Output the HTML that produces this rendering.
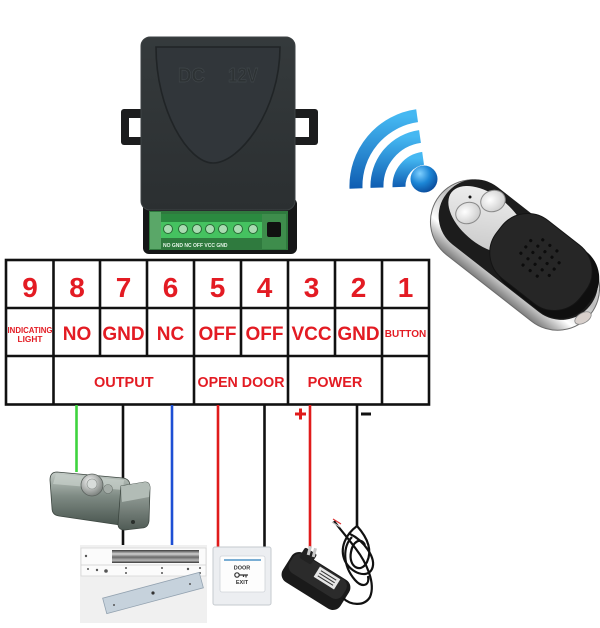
<!DOCTYPE html>
<html><head><meta charset="utf-8"><style>
html,body{margin:0;padding:0;background:#fff;width:600px;height:628px;overflow:hidden}
svg{display:block}
text{font-family:"Liberation Sans",Arial,sans-serif;font-weight:bold}
</style></head><body>
<svg width="600" height="628" viewBox="0 0 600 628" xmlns="http://www.w3.org/2000/svg">
<defs>
 <linearGradient id="cov" x1="0" y1="0" x2="0" y2="1"><stop offset="0" stop-color="#353a3c"/><stop offset="1" stop-color="#2b2f31"/></linearGradient>
 <linearGradient id="wifi" x1="0" y1="0" x2="0" y2="1"><stop offset="0" stop-color="#45b8f2"/><stop offset="1" stop-color="#0f5db2"/></linearGradient>
 <radialGradient id="ball" cx="0.35" cy="0.3" r="0.75"><stop offset="0" stop-color="#7fd0ff"/><stop offset="0.5" stop-color="#1c86d6"/><stop offset="1" stop-color="#0a4a9a"/></radialGradient>
 <linearGradient id="chrome" x1="0" y1="0" x2="0" y2="1"><stop offset="0" stop-color="#e8e8e8"/><stop offset="0.4" stop-color="#bdbdbd"/><stop offset="0.75" stop-color="#ffffff"/><stop offset="1" stop-color="#7d7d7d"/></linearGradient>
 <linearGradient id="plate" x1="0" y1="0" x2="1" y2="1"><stop offset="0" stop-color="#f4f4f4"/><stop offset="1" stop-color="#c4c4c4"/></linearGradient>
 <radialGradient id="btn" cx="0.4" cy="0.4" r="0.7"><stop offset="0" stop-color="#ffffff"/><stop offset="1" stop-color="#c8c8c8"/></radialGradient>
 <linearGradient id="lock" x1="0" y1="0" x2="0" y2="1"><stop offset="0" stop-color="#c4ccc7"/><stop offset="0.45" stop-color="#7f8b84"/><stop offset="1" stop-color="#4a5650"/></linearGradient>
 <linearGradient id="strike" x1="0" y1="0" x2="0" y2="1"><stop offset="0" stop-color="#a8b2ac"/><stop offset="1" stop-color="#505b55"/></linearGradient>
 <radialGradient id="knob" cx="0.4" cy="0.35" r="0.7"><stop offset="0" stop-color="#f4f4f4"/><stop offset="1" stop-color="#767c78"/></radialGradient>
 <linearGradient id="mag" x1="0" y1="0" x2="0" y2="1"><stop offset="0" stop-color="#3a3a3a"/><stop offset="0.3" stop-color="#d0d0d0"/><stop offset="0.55" stop-color="#6a6a6a"/><stop offset="0.8" stop-color="#b8b8b8"/><stop offset="1" stop-color="#333"/></linearGradient>
</defs>

<!-- ===== Controller module ===== -->
<rect x="121" y="109" width="22" height="36" rx="3" fill="#1c1d1e"/>
<rect x="129" y="118" width="13" height="19" fill="#fff"/>
<rect x="293" y="109" width="25" height="36" rx="3" fill="#1c1d1e"/>
<rect x="294" y="118" width="15" height="19" fill="#fff"/>
<rect x="143" y="198" width="154" height="56" rx="6" fill="#151617"/>
<rect x="149" y="211" width="139" height="39" fill="#2f7a3e"/>
<rect x="150" y="212" width="11" height="37" fill="#5aa768"/>
<rect x="161" y="214" width="101" height="9" fill="#2b8a40"/>
<rect x="161" y="222" width="101" height="16" fill="#45c260"/>
<g fill="#a9dcb2" stroke="#2a6a36" stroke-width="1">
 <circle cx="168" cy="229" r="4.5"/><circle cx="183" cy="229" r="4.5"/><circle cx="197" cy="229" r="4.5"/>
 <circle cx="210" cy="229" r="4.5"/><circle cx="223" cy="229" r="4.5"/><circle cx="238" cy="229" r="4.5"/><circle cx="253" cy="229" r="4.5"/>
</g>
<rect x="262" y="214" width="24" height="35" fill="#3e8d4c"/>
<rect x="267" y="222" width="14" height="15" rx="2" fill="#111"/>
<text x="163" y="247" font-size="5" fill="#e6f5e8" font-weight="normal">NO GND NC  OFF  VCC GND</text>
<rect x="141" y="37" width="154" height="173" rx="9" fill="url(#cov)" stroke="#3d4244" stroke-width="1"/>
<path d="M156,47 C156,110 188,163 213,163 C240,163 280,110 280,47 Z" fill="#31363a" stroke="#202426" stroke-width="1.6"/>
<text x="178" y="82" font-size="20" fill="#2d3234" stroke="#40464a" stroke-width="0.7" textLength="27" lengthAdjust="spacingAndGlyphs">DC</text>
<text x="228" y="82" font-size="20" fill="#2d3234" stroke="#40464a" stroke-width="0.7" textLength="30" lengthAdjust="spacingAndGlyphs">12V</text>

<!-- ===== WiFi icon ===== -->
<g fill="none" stroke="url(#wifi)" stroke-width="13">
 <path d="M356,188.5 A71,71 0 0 1 417.1,115.7"/>
 <path d="M377,187.7 A50,50 0 0 1 420,136.5"/>
 <path d="M399,187 A28,28 0 0 1 423.1,158.3"/>
</g>
<circle cx="424" cy="179" r="13.5" fill="url(#ball)"/>

<!-- ===== Remote ===== -->
<rect x="419" y="213" width="192" height="84" rx="42" transform="rotate(38 515 255)" fill="url(#chrome)" stroke="#6b6b6b" stroke-width="1"/>
<rect x="427" y="213" width="182" height="73" rx="36" transform="rotate(38 518 250)" fill="#1c1c1c"/>
<ellipse cx="487" cy="220" rx="45" ry="25" transform="rotate(38 487 220)" fill="url(#plate)"/>
<ellipse cx="468" cy="213" rx="12.5" ry="10.5" transform="rotate(-20 468 213)" fill="url(#btn)" stroke="#8a8a8a" stroke-width="1"/>
<ellipse cx="493" cy="201" rx="12.5" ry="10.5" transform="rotate(-20 493 201)" fill="url(#btn)" stroke="#8a8a8a" stroke-width="1"/>
<circle cx="470" cy="197" r="1.5" fill="#111"/>
<rect x="493" y="231" width="108" height="76" rx="34" transform="rotate(38 547 269)" fill="#0f0f0f"/>
<rect x="488" y="225" width="106" height="74" rx="33" transform="rotate(38 541 262)" fill="#262626" stroke="#141414" stroke-width="1"/>
<g transform="translate(540,258) rotate(38)" fill="#0c0c0c">
 <circle cx="-18" cy="-8" r="1.6"/><circle cx="-9" cy="-8" r="1.6"/><circle cx="0" cy="-8" r="1.6"/><circle cx="9" cy="-8" r="1.6"/><circle cx="18" cy="-8" r="1.6"/>
 <circle cx="-18" cy="0" r="1.6"/><circle cx="-9" cy="0" r="1.6"/><circle cx="0" cy="0" r="1.6"/><circle cx="9" cy="0" r="1.6"/><circle cx="18" cy="0" r="1.6"/>
 <circle cx="-18" cy="8" r="1.6"/><circle cx="-9" cy="8" r="1.6"/><circle cx="0" cy="8" r="1.6"/><circle cx="9" cy="8" r="1.6"/><circle cx="18" cy="8" r="1.6"/>
 <circle cx="-9" cy="-16" r="1.6"/><circle cx="0" cy="-16" r="1.6"/><circle cx="9" cy="-16" r="1.6"/>
 <circle cx="-9" cy="16" r="1.6"/><circle cx="0" cy="16" r="1.6"/><circle cx="9" cy="16" r="1.6"/>
</g>
<ellipse cx="583" cy="318" rx="9" ry="5" transform="rotate(-30 583 318)" fill="#d8d0cc" stroke="#888" stroke-width="0.8"/>

<!-- ===== Table ===== -->
<g stroke="#111" stroke-width="2.6" fill="none">
 <rect x="6" y="260" width="423" height="144.5"/>
 <line x1="6" y1="308" x2="429" y2="308"/>
 <line x1="6" y1="356" x2="429" y2="356"/>
 <line x1="53.5" y1="260" x2="53.5" y2="404.5"/>
 <line x1="100" y1="260" x2="100" y2="356"/>
 <line x1="147" y1="260" x2="147" y2="356"/>
 <line x1="194" y1="260" x2="194" y2="404.5"/>
 <line x1="241" y1="260" x2="241" y2="356"/>
 <line x1="288" y1="260" x2="288" y2="404.5"/>
 <line x1="335" y1="260" x2="335" y2="356"/>
 <line x1="382" y1="260" x2="382" y2="404.5"/>
</g>
<g fill="#e31b23" text-anchor="middle">
 <g font-size="28">
  <text x="30" y="297">9</text><text x="77" y="297">8</text><text x="123.5" y="297">7</text>
  <text x="170.5" y="297">6</text><text x="217.5" y="297">5</text><text x="264.5" y="297">4</text>
  <text x="311.5" y="297">3</text><text x="358.5" y="297">2</text><text x="405.5" y="297">1</text>
 </g>
 <text x="30" y="333" font-size="8" textLength="45" lengthAdjust="spacingAndGlyphs">INDICATING</text>
 <text x="30" y="342" font-size="8.3">LIGHT</text>
 <g font-size="19">
  <text x="77" y="340">NO</text><text x="123.5" y="340">GND</text><text x="170.5" y="340">NC</text>
  <text x="217.5" y="340">OFF</text><text x="264.5" y="340">OFF</text><text x="311.5" y="340">VCC</text>
  <text x="358.5" y="340">GND</text>
 </g>
 <text x="405.5" y="337" font-size="10">BUTTON</text>
 <g font-size="14.5">
  <text x="123.75" y="387">OUTPUT</text>
  <text x="241" y="387" textLength="87" lengthAdjust="spacingAndGlyphs">OPEN DOOR</text>
  <text x="335" y="387">POWER</text>
 </g>
</g>

<!-- ===== Wires ===== -->
<g stroke-width="2.6">
 <line x1="76.5" y1="405" x2="76.5" y2="472" stroke="#3ed43e"/>
 <line x1="123" y1="405" x2="123" y2="484" stroke="#111"/>
 <line x1="123" y1="530" x2="123" y2="548" stroke="#111"/>
 <line x1="172" y1="405" x2="172" y2="548" stroke="#1d4fd4"/>
 <line x1="218" y1="405" x2="218" y2="548" stroke="#e01b1b"/>
 <line x1="264.5" y1="405" x2="264.5" y2="547" stroke="#111"/>
 <line x1="310" y1="405" x2="310" y2="548" stroke="#e01b1b"/>
 <line x1="357" y1="405" x2="357" y2="526" stroke="#111"/>
</g>
<path d="M295,414 H306 M300.5,408.5 V419.5" stroke="#e01b1b" stroke-width="3" fill="none"/>
<rect x="361" y="412.5" width="10" height="3" fill="#111"/>

<!-- ===== Rim lock ===== -->
<path d="M57,472 L123,478 Q130,479 130,486 L128,518 Q127,525 120,525 L59,516 Q52,515 52,508 L50,480 Q50,472 57,472 Z" fill="url(#lock)" stroke="#3d4741" stroke-width="0.8"/>
<path d="M56,474 L124,480 L123,490 L53,484 Z" fill="#c8d0cb" opacity="0.7"/>
<path d="M121,486 L145,482 Q150,482 150,488 L149,521 Q148,528 142,528 L125,530 Q118,530 118,524 Z" fill="url(#strike)" stroke="#3d4741" stroke-width="0.8"/>
<path d="M121,486 L145,482 Q150,482 150,488 L149,497 L122,502 Z" fill="#b2bcb6"/>
<circle cx="92" cy="485" r="11" fill="url(#knob)" stroke="#5b625e" stroke-width="0.8"/>
<circle cx="92" cy="484" r="5" fill="#d8dcda" stroke="#8a908c" stroke-width="0.6"/>
<circle cx="108" cy="489" r="4.5" fill="#a4aca7" stroke="#6a726d" stroke-width="0.6"/>
<circle cx="133" cy="522" r="2" fill="#2a2f2c"/>

<!-- ===== Magnetic lock ===== -->
<rect x="80" y="545" width="127" height="78" fill="#f0f0f0"/>
<rect x="81" y="548" width="125" height="28" fill="#fbfbfb" stroke="#d6d6d6" stroke-width="0.8"/>
<rect x="112" y="550" width="87" height="13" fill="url(#mag)"/>
<line x1="81" y1="565" x2="206" y2="565" stroke="#cfcfcf" stroke-width="0.8"/>
<g fill="#555">
 <circle cx="86" cy="556" r="1.2"/><circle cx="88" cy="569" r="1"/><circle cx="97" cy="570" r="1.2"/><circle cx="106" cy="571" r="1.8"/>
 <circle cx="126" cy="568" r="1"/><circle cx="126" cy="573" r="1"/><circle cx="162" cy="568" r="1"/><circle cx="162" cy="573" r="1"/>
 <circle cx="188" cy="569" r="1.2"/><circle cx="200" cy="568" r="1"/><circle cx="200" cy="573" r="1"/>
</g>
<rect x="103" y="585" width="100" height="16" transform="rotate(-15 153 593)" fill="#c6d2dc" stroke="#93a2b0" stroke-width="0.8"/>
<circle cx="153" cy="593" r="1.6" fill="#333"/>
<circle cx="114" cy="605" r="1" fill="#555"/><circle cx="190" cy="584" r="1" fill="#555"/>

<!-- ===== Exit button ===== -->
<rect x="213" y="547" width="58" height="58" rx="2" fill="#eceef1" stroke="#c5c9ce" stroke-width="1"/>
<rect x="220" y="556" width="45" height="36" rx="2" fill="#fdfdfd" stroke="#cfd3d8" stroke-width="0.8"/>
<line x1="224" y1="560" x2="261" y2="560" stroke="#4f94c6" stroke-width="1.6"/>
<text x="242" y="569.5" font-size="5.5" fill="#333" text-anchor="middle">DOOR</text>
<circle cx="237" cy="575" r="2.2" fill="none" stroke="#333" stroke-width="1.2"/>
<path d="M239,575 H248 M246,575 V577.5 M243.5,575 V577" stroke="#333" stroke-width="1.2" fill="none"/>
<text x="242" y="584" font-size="5.5" fill="#333" text-anchor="middle">EXIT</text>

<!-- ===== Power adapter ===== -->
<g transform="translate(316,581) rotate(32)">
 <rect x="-34" y="-17" width="68" height="34" rx="9" fill="#1a1a1a"/>
 <rect x="-32" y="-16" width="62" height="22" rx="8" fill="#2b2b2b"/>
</g>
<g transform="translate(308,556) rotate(32)">
 <rect x="-7" y="-6" width="14" height="12" rx="2" fill="#222"/>
</g>
<rect x="308" y="546" width="3" height="9" fill="#c8c8c8" transform="rotate(15 309 550)"/>
<rect x="313" y="548" width="3" height="9" fill="#c8c8c8" transform="rotate(15 314 552)"/>
<g transform="translate(327,578) rotate(32)">
 <rect x="-12" y="-6" width="24" height="12" fill="#e6e6e6"/>
 <line x1="-9" y1="-3" x2="9" y2="-3" stroke="#333" stroke-width="1"/>
 <line x1="-9" y1="0" x2="9" y2="0" stroke="#333" stroke-width="1"/>
 <line x1="-9" y1="3" x2="9" y2="3" stroke="#333" stroke-width="1"/>
</g>
<g fill="none" stroke="#111" stroke-width="2.2">
 <path d="M343,598 C350,605 364,607 370,597 C376,583 366,562 356,549 C347,537 339,528 334,521"/>
 <path d="M357,526 C346,534 339,548 345,561 C351,573 367,579 372,569 C377,558 363,540 350,534"/>
 <path d="M357,526 C366,536 373,549 367,562 C361,574 348,567 351,552 C353,541 361,537 365,545"/>
 <path d="M352,537 C343,546 342,565 355,580 C362,588 370,586 368,576"/>
</g>
<line x1="333" y1="519" x2="341" y2="524" stroke="#d33" stroke-width="1.2"/>
<line x1="332" y1="522" x2="340" y2="527" stroke="#bbb" stroke-width="1.2"/>
</svg>
</body></html>
